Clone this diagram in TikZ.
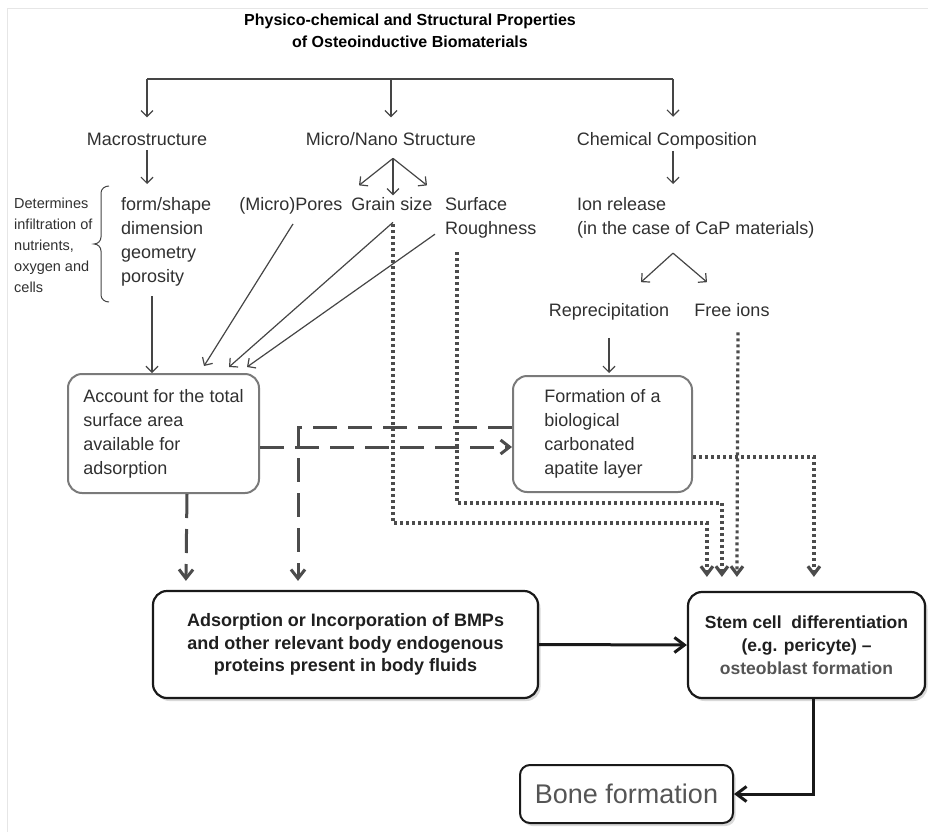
\documentclass[tikz,border=0pt]{standalone}
\usepackage{fontspec}
\setmainfont{Liberation Sans}
\usetikzlibrary{arrows.meta,calc,shadows}
\definecolor{inkgray}{HTML}{303030}
\definecolor{linegray}{HTML}{454545}
\definecolor{boxgray}{HTML}{7A7A7A}
\definecolor{dashgray}{HTML}{4C4C4C}
\definecolor{softgray}{HTML}{555555}
\definecolor{framegray}{HTML}{E6E6E6}
\begin{document}
\begin{tikzpicture}[x=1pt,y=-1pt,
        lbl/.style={font=\fontsize{18}{24}\selectfont, text=inkgray, inner sep=2pt},
        thinline/.style={draw=linegray, line width=1.2pt},
        thinarr/.style={thinline, -{Straight Barb[length=6pt,width=12pt]}},
        dasharr/.style={draw=dashgray, line width=3pt, dash pattern=on 24pt off 11pt, -{Straight Barb[length=9pt,width=14pt]}},
        dotarr/.style={draw=dashgray, line width=3.2pt, dash pattern=on 3pt off 3pt, -{Straight Barb[length=8pt,width=12pt]}},
        softbox/.style={lbl, draw=boxgray, line width=2pt, rounded corners=14pt, align=left},
        hardbox/.style={draw=black!90, line width=2.2pt, rounded corners=14pt, fill=white, text=black!88, align=center,
            drop shadow={shadow xshift=2.5pt, shadow yshift=-3pt, opacity=0.3}},
        bigarr/.style={draw=black!90, line width=3pt, -{Straight Barb[length=10pt,width=15pt]}}]
    \useasboundingbox (0,0) rectangle (928,832);
    \draw[framegray, line width=1pt] (7,832) |- (928,9);

    \node[font=\bfseries\fontsize{16}{22}\selectfont, align=center, text=black] (title) at (410,31)
        {Physico-chemical and Structural Properties\\of Osteoinductive Biomaterials};

    \node[lbl, anchor=base] (macro) at (147,145) {Macrostructure};
    \node[lbl, anchor=base] (micro) at (391,145) {Micro/Nano Structure};
    \node[lbl, anchor=base] (chem) at (667,145) {Chemical Composition};

    \node[font=\fontsize{14.5}{21}\selectfont, text=inkgray, align=left, anchor=north west, inner sep=0pt] (infil) at (14,198)
        {Determines\\infiltration of\\nutrients,\\oxygen and\\cells};
    \node[lbl, align=left, anchor=north west] (form) at (119,195) {form/shape\\dimension\\geometry\\porosity};
    \node[lbl, anchor=base] (pores) at (291,210) {(Micro)Pores};
    \node[lbl, anchor=base] (grain) at (392,210) {Grain size};
    \node[lbl, align=left, anchor=north west] (rough) at (443,195) {Surface\\Roughness};
    \node[lbl, align=left, anchor=north west] (ion) at (575,195) {Ion release\\(in the case of CaP materials)};

    \node[lbl, anchor=base] (reprec) at (609,316) {Reprecipitation};
    \node[lbl, anchor=base] (free) at (732,316) {Free ions};

    \node[softbox, minimum width=191pt, minimum height=119pt] (account) at (163.5,433.5)
        {Account for the total\\surface area\\available for\\adsorption};
    \node[softbox, minimum width=179pt, minimum height=116pt] (formation) at (602.5,434)
        {Formation of a\\biological\\carbonated\\apatite layer};

    \node[hardbox, minimum width=385pt, minimum height=107pt, font=\bfseries\fontsize{18}{22.5}\selectfont] (adsorption) at (345.5,644.5)
        {Adsorption or Incorporation of BMPs\\and other relevant body endogenous\\proteins present in body fluids};
    \node[hardbox, minimum width=237pt, minimum height=106pt, font=\bfseries\fontsize{17.5}{23}\selectfont] (stem) at (806.5,645)
        {Stem cell\ \ differentiation\\(e.g. pericyte) --\\\textcolor{softgray}{osteoblast formation}};
    \node[hardbox, line width=2pt, rounded corners=10pt, minimum width=213pt, minimum height=58pt,
        font=\fontsize{27}{30}\selectfont, text=softgray] (bone) at (626.5,794) {Bone formation};

    % top fork
    \coordinate (fork) at (393,79);
    \coordinate (chemdrop) at ($(chem.north)+(6,0)$);
    \draw[thinline] (macro.north |- fork) -- (chemdrop |- fork);
    \draw[thinarr, shorten >=13pt] (macro.north |- fork) -- (macro.north);
    \draw[thinarr, shorten >=12.5pt] (micro.north |- fork) -- (micro.north);
    \draw[thinarr, shorten >=13pt] (chemdrop |- fork) -- (chemdrop);

    \draw[thinarr, shorten <=3pt, shorten >=11pt] (macro.south) -- (macro.south |- form.north);
    \coordinate (chemout) at ($(chem.south)+(6,0)$);
    \draw[thinarr, shorten >=11pt] (chemout) -- (chemout |- ion.north);

    \coordinate (microfork) at ($(micro.south)+(2,11)$);
    \foreach \dx/\dy in {-34/27, 0/37, 34/27}
        \draw[thinarr] (microfork) -- ++(\dx,\dy);
    \coordinate (ionfork) at ($(ion.south west)+(98,13)$);
    \foreach \dx/\dy in {-32/29, 34/29}
        \draw[thinarr] (ionfork) -- ++(\dx,\dy);

    \draw[thinarr, shorten <=16pt, shorten >=2pt] (reprec.south) -- (reprec.south |- formation.north);

    % brace
    \draw[thinline, line width=1pt] (109,186) to[out=180,in=90] (101,193) -- (101,237) to[out=-90,in=0] (94,244)
        to[out=0,in=90] (101,251) -- (101,295) to[out=-90,in=180] (109,302);

    % into the surface area box
    \coordinate (porout) at ($(form.south west)+(33,8)$);
    \draw[thinarr] (porout) -- (porout |- account.north);
    \draw[thinarr] ($(pores.south)+(2,8)$) -- ($(account.north)+(40.5,-7)$);
    \draw[thinarr] ($(grain.south)+(1,10)$) -- ($(account.north)+(65.5,-6)$);
    \draw[thinarr] ($(rough.south west)+(-8,-6)$) -- ($(account.north)+(83.5,-6)$);

    % dashed
    \draw[dasharr] ($(account.east)+(0,13.5)$) -- ($(formation.west)+(0,13)$);
    \draw[dasharr] ($(formation.west)+(0,-7)$) -| ($(adsorption.north)+(-47.5,-9)$);
    \draw[dasharr] ($(account.south)+(23.5,0)$) -- ($(adsorption.north west)+(34,-9)$);

    % dotted
    \draw[dotarr] ($(grain.south)+(1,12)$) |- ($(stem.north west)+(20,-68)$) -- ($(stem.north west)+(20,-14)$);
    \draw[dotarr] ($(rough.south west)+(14,12)$) |- ($(stem.north west)+(35,-88)$) -- ($(stem.north west)+(35,-14)$);
    \draw[dotarr] ($(free.south)+(6,14)$) -- ($(stem.north west)+(50,-14)$);
    \draw[dotarr] ($(formation.east)+(0,23)$) -| ($(stem.north west)+(127,-14)$);

    \draw[bigarr] (adsorption.east) -- (stem.west);
    \draw[bigarr] ($(stem.south)+(6.5,0)$) |- (bone.east);
\end{tikzpicture}
\end{document}
